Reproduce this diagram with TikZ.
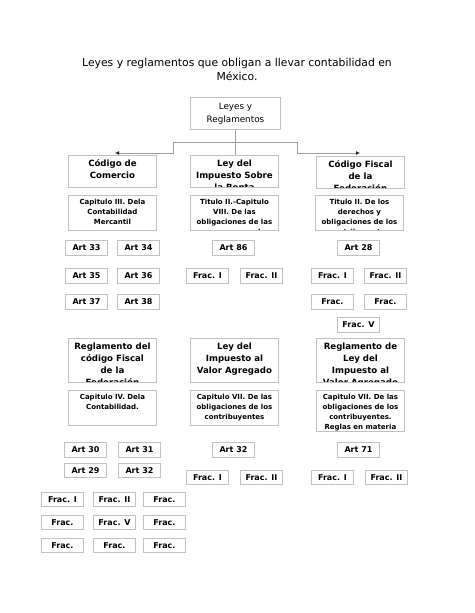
\documentclass[tikz,border=0pt]{standalone}
\usepackage{fontspec}
\setmainfont{DejaVu Sans}
\usetikzlibrary{arrows.meta}
\definecolor{boxgray}{gray}{0.76}
\definecolor{linegray}{gray}{0.62}
\newcommand{\titlefont}{\fontsize{10.8}{14}\selectfont}
\newcommand{\rootfont}{\fontsize{8.8}{13}\selectfont}
\newcommand{\headfont}{\fontsize{8.6}{12}\selectfont\bfseries}
\newcommand{\capfont}{\fontsize{7}{10}\selectfont\bfseries}
\newcommand{\artfont}{\fontsize{8}{9}\selectfont\bfseries}
\tikzset{
  frame/.style={draw=boxgray, line width=0.9pt, inner sep=0pt, anchor=north west},
  inner/.style={draw=none, shape=rectangle, minimum size=0pt, inner sep=0pt, anchor=north, align=center, text=black},
  headbox/.style={frame, minimum width=88pt, path picture={\node[inner, font=\headfont] at ([yshift=-4pt]path picture bounding box.north) {#1};}},
  capbox/.style={frame, minimum width=88pt, path picture={\node[inner, font=\capfont] at ([yshift=-3.5pt]path picture bounding box.north) {#1};}},
  artbox/.style={frame, minimum width=42pt, minimum height=15pt, font=\artfont},
  fracbox/.style={frame, minimum width=42pt, minimum height=14pt, font=\artfont},
  conn/.style={draw=linegray, line width=0.8pt},
  arrow/.style={conn, -{Latex[length=4pt,width=4pt,color=black!85]}}
}
\begin{document}
\begin{tikzpicture}[x=1pt, y=-1pt]
\useasboundingbox[fill=white] (0,0) rectangle (474,613);
% title
\node[font=\titlefont, align=center] (title) at (237,69) {Leyes y reglamentos que obligan a llevar contabilidad en\\México.};
\node[frame, minimum width=90pt, minimum height=32pt, font=\rootfont, align=center] (root) at (190,97) {Leyes y\\Reglamentos};

% first group
\node[headbox={Código de\\Comercio}, minimum height=32pt] (ccom) at (68,155) {};
\node[headbox={Ley del\\Impuesto Sobre\\la Renta}, minimum height=32pt] (lisr) at (190,155) {};
\node[headbox={Código Fiscal\\de la\\Federación}, minimum height=32pt] (cff) at (316,156) {};
\node[capbox={Capitulo III. Dela\\Contabilidad\\Mercantil}, minimum height=35pt] (cap1) at (68,195) {};
\node[capbox={Titulo II.-Capitulo\\VIII. De las\\obligaciones de las\\personas morales}, minimum height=35pt] (cap2) at (190,195) {};
\node[capbox={Titulo II. De los\\derechos y\\obligaciones de los\\contribuyentes}, minimum height=35pt] (cap3) at (315,195) {};

\node[artbox] (a33) at (65,240) {Art 33};
\node[artbox] (a34) at (117,240) {Art 34};
\node[artbox] (a86) at (212,240) {Art 86};
\node[artbox] (a28) at (337,240) {Art 28};
\node[artbox] (a35) at (65,268) {Art 35};
\node[artbox] (a36) at (117,268) {Art 36};
\node[artbox] (lisrfI) at (186,268) {Frac. I};
\node[artbox] (lisrfII) at (240,268) {Frac. II};
\node[artbox] (cfffI) at (311,268) {Frac. I};
\node[artbox] (cfffII) at (364,268) {Frac. II};
\node[artbox] (a37) at (65,294) {Art 37};
\node[artbox] (a38) at (117,294) {Art 38};
\node[artbox] (cfffIII) at (311,294) {Frac.};
\node[artbox] (cfffIV) at (364,294) {Frac.};
\node[artbox] (cfffV) at (337,317) {Frac. V};

% connectors
\coordinate (jl) at (173,142);
\coordinate (jr) at (297,142);
\draw[arrow] (root.south) |- (jl) |- (115,153);
\draw[arrow] (root.south) |- (jr) |- (360,153);
\draw[conn] (root.south) -- (root.south |- lisr.north);

% second group
\node[headbox={Reglamento del\\código Fiscal\\de la\\Federación}, minimum height=44pt] (rcff) at (68,338) {};
\node[headbox={Ley del\\Impuesto al\\Valor Agregado}, minimum height=44pt] (liva) at (190,338) {};
\node[headbox={Reglamento de\\Ley del\\Impuesto al\\Valor Agregado}, minimum height=44pt] (rliva) at (316,338) {};
\node[capbox={Capitulo IV. Dela\\Contabilidad.}, minimum height=35pt] (cap4) at (68,390) {};
\node[capbox={Capitulo VII. De las\\obligaciones de los\\contribuyentes}, minimum height=35pt] (cap5) at (190,390) {};
\node[capbox={Capitulo VII. De las\\obligaciones de los\\contribuyentes.\\Reglas en materia}, minimum height=41pt] (cap6) at (316,390) {};

\node[artbox] (a30) at (64,442) {Art 30};
\node[artbox] (a31) at (118,442) {Art 31};
\node[artbox] (a32) at (212,442) {Art 32};
\node[artbox] (a71) at (337,442) {Art 71};
\node[artbox, minimum height=14pt] (a29) at (64,463) {Art 29};
\node[artbox, minimum height=14pt] (a32r) at (118,463) {Art 32};
\node[fracbox] (livafI) at (186,470) {Frac. I};
\node[fracbox] (livafII) at (240,470) {Frac. II};
\node[fracbox] (rlivafI) at (311,470) {Frac. I};
\node[fracbox] (rlivafII) at (365,470) {Frac. II};

\node[fracbox] (rf1) at (41,492) {Frac. I};
\node[fracbox] (rf2) at (93,492) {Frac. II};
\node[fracbox] (rf3) at (143,492) {Frac.};
\node[fracbox] (rf4) at (41,515) {Frac.};
\node[fracbox] (rf5) at (93,515) {Frac. V};
\node[fracbox] (rf6) at (143,515) {Frac.};
\node[fracbox] (rf7) at (41,538) {Frac.};
\node[fracbox] (rf8) at (93,538) {Frac.};
\node[fracbox] (rf9) at (143,538) {Frac.};
\end{tikzpicture}
\end{document}
